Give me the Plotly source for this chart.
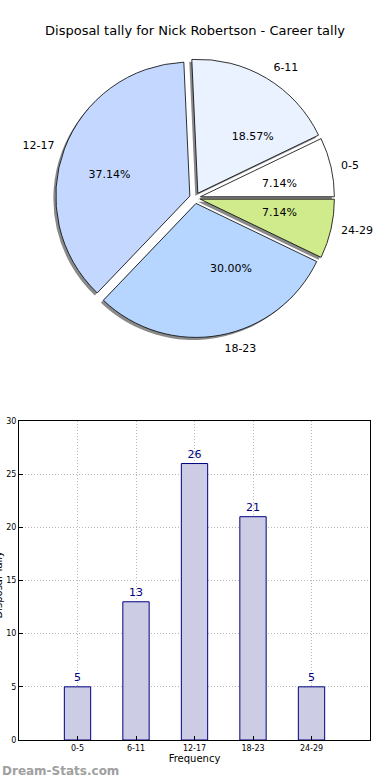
import plotly.graph_objects as go

title_text = "Disposal tally for Nick Robertson - Career tally"
categories = ["0-5", "6-11", "12-17", "18-23", "24-29"]
counts = [5, 13, 26, 21, 5]
pie_colors = ["#FFFFFF", "#EAF1FF", "#C4D8FF", "#B6D6FF", "#CFEB8B"]
y_ticks = [0, 5, 10, 15, 20, 25, 30]

W, H = 390, 780
cx, cy = 195, 198          # pie centre, px from top-left
R = 134                    # pie radius px
PULL_PX = 5.5              # explode distance px
R_PCT = 60                 # radius of the (invisible) pie that carries the % texts
R_LBL = 141                # radius of the (invisible) pie that carries the labels

# first slice should start at 3 o'clock and run counterclockwise
start_rot = 90 - 360 * counts[0] / sum(counts)


def dom(cx_, cy_, r, pull):
    b = 2 * r * (1 + pull)
    return dict(x=[(cx_ - b / 2) / W, (cx_ + b / 2) / W],
                y=[1 - (cy_ + b / 2) / H, 1 - (cy_ - b / 2) / H])


def pie(r, dx=0, dy=0, **kw):
    p = PULL_PX / r
    return go.Pie(labels=categories, values=counts, sort=False,
                  direction="counterclockwise", rotation=start_rot,
                  pull=[p] * len(counts), domain=dom(cx + dx, cy + dy, r, p),
                  showlegend=False, **kw)


fig = go.Figure()
# shadow
fig.add_trace(pie(R, -2.5, 2.5, marker=dict(colors=["#8a8a8a"] * 5, line=dict(width=0)),
                  textinfo="none", hoverinfo="skip"))
# wedges
fig.add_trace(pie(R, marker=dict(colors=pie_colors, line=dict(color="#000000", width=0.8)),
                  textinfo="none"))
# percentage texts
fig.add_trace(pie(R_PCT, marker=dict(colors=["rgba(0,0,0,0)"] * 5, line=dict(width=0)),
                  texttemplate="%{percent:.2%}", textposition="outside",
                  outsidetextfont=dict(family="DejaVu Sans", size=11, color="#000000"),
                  hoverinfo="skip"))
# category labels
fig.add_trace(pie(R_LBL, marker=dict(colors=["rgba(0,0,0,0)"] * 5, line=dict(width=0)),
                  textinfo="label", textposition="outside",
                  outsidetextfont=dict(family="DejaVu Sans", size=11, color="#000000"),
                  hoverinfo="skip"))

fig.add_trace(go.Bar(
    x=categories, y=counts, width=0.45,
    marker=dict(color="#CCCCE5", line=dict(color="#000080", width=1)),
    texttemplate="%{y}", textposition="outside", cliponaxis=False,
    textfont=dict(family="DejaVu Sans", size=11, color="#000080"),
    showlegend=False,
))

fig.update_layout(
    width=W, height=H,
    margin=dict(l=0, r=0, t=0, b=0, autoexpand=False),
    paper_bgcolor="white", plot_bgcolor="white",
    font=dict(family="DejaVu Sans", color="#000000"),
    title=dict(text=title_text, x=0.5, xanchor="center", y=1 - 30 / H, yanchor="middle",
               font=dict(size=13, family="DejaVu Sans")),
    xaxis=dict(
        domain=[19 / W, 370 / W], type="category", range=[-1, 5], automargin=False,
        showline=True, linecolor="black", linewidth=1, mirror=True,
        ticks="inside", ticklen=4, tickcolor="black",
        showgrid=True, gridcolor="#b8b8b8", griddash="1px,2px", gridwidth=1,
        tickfont=dict(size=8), zeroline=False,
        title=dict(text="Frequency", font=dict(size=10), standoff=2),
    ),
    yaxis=dict(
        domain=[1 - 740 / H, 1 - 421 / H], range=[0, 30], tickvals=y_ticks,
        automargin=False,
        showline=True, linecolor="black", linewidth=1, mirror=True,
        ticks="inside", ticklen=4, tickcolor="black",
        showgrid=True, gridcolor="#b8b8b8", griddash="1px,2px", gridwidth=1,
        tickfont=dict(size=8), zeroline=False,
    ),
    annotations=[
        dict(text="Disposal Tally", textangle=-90, xref="paper", yref="paper",
             x=-2.5 / W, y=1 - 585 / H, xanchor="center", yanchor="middle",
             showarrow=False, font=dict(size=10, color="#000000")),
        dict(text="<b>Dream-Stats.com</b>", xref="paper", yref="paper",
             x=0, y=1 - 771 / H, xanchor="left", yanchor="middle",
             showarrow=False, font=dict(size=12, color="#a0a0a0")),
    ],
)

fig.write_html("out.html", config={"displayModeBar": False},
               post_script="document.body.style.margin='0';")
